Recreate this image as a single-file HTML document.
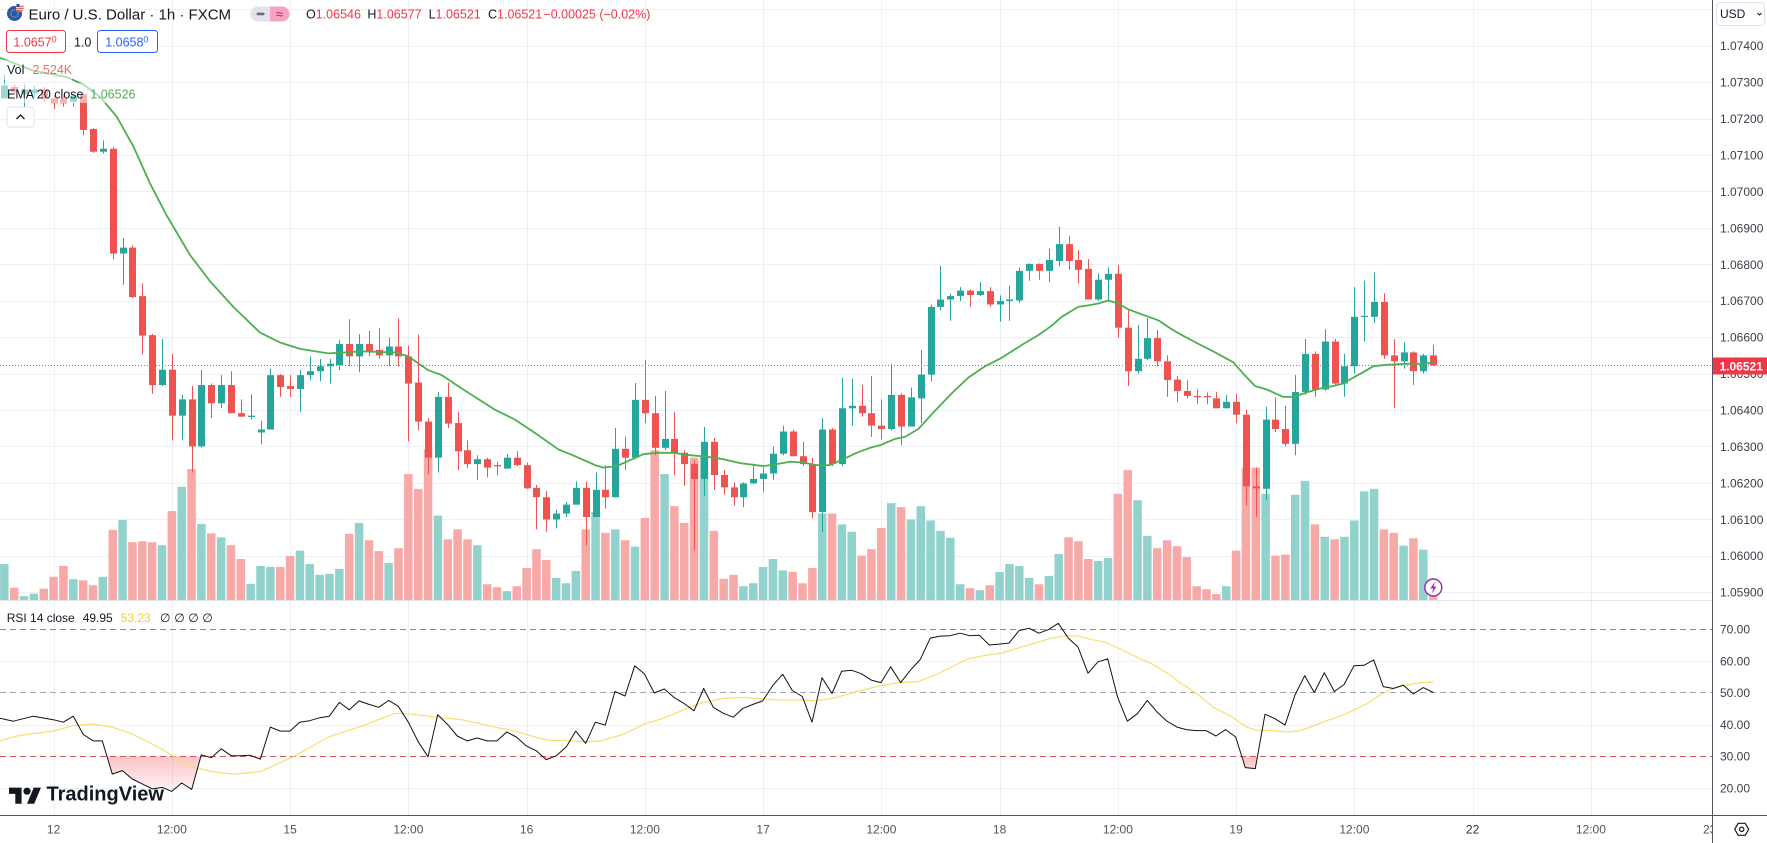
<!DOCTYPE html>
<html><head><meta charset="utf-8"><title>EURUSD 1h</title>
<style>
html,body{margin:0;padding:0;background:#fff;}
body{width:1767px;height:843px;overflow:hidden;}
svg{display:block;font-family:"Liberation Sans",Arial,sans-serif;}
</style></head><body>
<svg id="c" width="1767" height="843" viewBox="0 0 1767 843" xmlns="http://www.w3.org/2000/svg">
<defs>
<linearGradient id="pk" gradientUnits="userSpaceOnUse" x1="0" y1="756" x2="0" y2="795"><stop offset="0" stop-color="#f23645" stop-opacity="0.30"/><stop offset="1" stop-color="#f23645" stop-opacity="0.03"/></linearGradient>
<clipPath id="b30"><rect x="0" y="756.3" width="1712" height="58"/></clipPath>
</defs>
<rect width="1767" height="843" fill="#fff"/>
<g id="grid" stroke="#edf0f5" stroke-width="1"></g>
<g id="vol"></g>
<g id="cand"></g>
<g id="ema"></g>

<!-- current price line -->
<line x1="0" x2="1712" y1="365.5" y2="365.5" stroke="#ef5350" stroke-width="1" stroke-dasharray="1 2"/>

<!-- header legend -->
<circle cx="14.5" cy="13.5" r="7.5" fill="#2358b8"/>
<circle cx="14.5" cy="13.5" r="3.6" fill="none" stroke="#f6d34a" stroke-width="1" stroke-dasharray="1 1.3"/>
<circle cx="20" cy="7.5" r="4" fill="#fff"/>
<path d="M16.3 6.3h7.4M16.3 8.3h7.4M17 10.2h6" stroke="#d83a3a" stroke-width="1"/>
<rect x="16.5" y="4" width="3" height="3" fill="#2d4aa0"/>
<text x="28.5" y="19.3" font-size="15" fill="#131722">Euro / U.S. Dollar · 1h · FXCM</text>
<rect x="250.5" y="6.5" width="39" height="15" rx="7.5" fill="#e0e3eb"/>
<path d="M270 6.5H282A7.5 7.5 0 0 1 282 21.5H270Z" fill="#f5a3c3"/>
<rect x="256.5" y="12.6" width="8" height="2.6" rx="1.3" fill="#6a6d78"/>
<text x="279.5" y="18.6" font-size="13" fill="#c2185b" text-anchor="middle">≈</text>
<g font-size="12.5">
<text x="306" y="18.3" fill="#131722">O<tspan fill="#f23645">1.06546</tspan></text>
<text x="367.4" y="18.3" fill="#131722">H<tspan fill="#f23645">1.06577</tspan></text>
<text x="428.6" y="18.3" fill="#131722">L<tspan fill="#f23645">1.06521</tspan></text>
<text x="488" y="18.3" fill="#131722">C<tspan fill="#f23645">1.06521</tspan></text>
<text x="543.4" y="18.3" fill="#f23645">−0.00025 (−0.02%)</text>
</g>
<rect x="6.5" y="30.5" width="59" height="22" rx="3" fill="#fff" stroke="#f23645"/>
<text x="13.4" y="46.5" font-size="12.5" fill="#f23645">1.0657<tspan font-size="9" dy="-4">0</tspan></text>
<text x="74" y="46.5" font-size="12.5" fill="#131722">1.0</text>
<rect x="97.5" y="30.5" width="60" height="22" rx="3" fill="#fff" stroke="#2962ff"/>
<text x="105.2" y="46.5" font-size="12.5" fill="#2962ff">1.0658<tspan font-size="9" dy="-4">0</tspan></text>
<rect x="0" y="60" width="72" height="20" fill="#fff" fill-opacity="0.55"/>
<text x="7" y="74" font-size="12.5" fill="#131722">Vol</text>
<text x="32.5" y="74" font-size="12.5" fill="#ef6c6c">2.524K</text>
<rect x="0" y="83" width="136" height="20" fill="#fff" fill-opacity="0.55"/>
<text x="7" y="98.3" font-size="12.5" fill="#131722">EMA 20 close</text>
<text x="90.3" y="98.3" font-size="12.5" fill="#4caf50">1.06526</text>
<rect x="7" y="107" width="27" height="20" rx="3" fill="#fff" stroke="#e0e3eb"/>
<path d="M16.5 119 L20.5 115 L24.5 119" fill="none" stroke="#131722" stroke-width="1.3"/>

<!-- lightning icon -->
<circle cx="1433.3" cy="587.5" r="8.5" fill="#fff" stroke="#9c27b0" stroke-width="1.4"/>
<path d="M1435 581.5 L1430.3 588.5 H1433.3 L1431.8 593.5 L1436.5 586.5 H1433.5 Z" fill="#9c27b0"/>

<!-- pane separator -->
<line x1="0" x2="1767" y1="600.5" y2="600.5" stroke="#e0e3eb"/>

<!-- RSI pane -->
<line x1="0" x2="1712" y1="629.5" y2="629.5" stroke="#5f9e75" stroke-dasharray="6 4"/>
<line x1="0" x2="1712" y1="692.5" y2="692.5" stroke="#a3a6af" stroke-dasharray="6 4"/>
<line x1="0" x2="1712" y1="756.5" y2="756.5" stroke="#d25a5a" stroke-dasharray="6 4"/>
<g id="rsi"></g>
<g font-size="12">
<text x="6.7" y="621.8" fill="#131722">RSI 14 close</text>
<text x="82.7" y="621.8" fill="#131722">49.95</text>
<text x="120.7" y="621.8" fill="#f2cf3a">53.23</text>
<text x="160" y="621.8" fill="#131722">∅</text>
<text x="174.3" y="621.8" fill="#131722">∅</text>
<text x="188.3" y="621.8" fill="#131722">∅</text>
<text x="202.3" y="621.8" fill="#131722">∅</text>
</g>

<!-- TradingView logo -->
<g transform="translate(9,784) scale(0.9)" fill="#131722">
<path d="M14 22H7V11H0V4h14v18z"/>
<circle cx="20" cy="8" r="4"/>
<path d="M28 22h-8l7.5-18h8L28 22z"/>
</g>
<text x="46.5" y="800.5" font-size="20" font-weight="bold" fill="#131722">TradingView</text>

<!-- axes backgrounds -->
<rect x="1713" y="0" width="54" height="843" fill="#fff"/>
<rect x="0" y="816" width="1713" height="27" fill="#fff"/>
<line x1="1712.5" x2="1712.5" y1="0" y2="843" stroke="#50535e"/>
<line x1="0" x2="1767" y1="815.5" y2="815.5" stroke="#50535e"/>

<!-- price axis labels -->
<g font-size="12" fill="#3b3f4a">
<text x="1720" y="50.2">1.07400</text>
<text x="1720" y="86.6">1.07300</text>
<text x="1720" y="123.1">1.07200</text>
<text x="1720" y="159.5">1.07100</text>
<text x="1720" y="195.9">1.07000</text>
<text x="1720" y="232.4">1.06900</text>
<text x="1720" y="268.8">1.06800</text>
<text x="1720" y="305.2">1.06700</text>
<text x="1720" y="341.6">1.06600</text>
<text x="1720" y="378.1">1.06500</text>
<text x="1720" y="414.5">1.06400</text>
<text x="1720" y="450.9">1.06300</text>
<text x="1720" y="487.4">1.06200</text>
<text x="1720" y="523.8">1.06100</text>
<text x="1720" y="560.2">1.06000</text>
<text x="1720" y="596.7">1.05900</text>
<text x="1720" y="633.6">70.00</text>
<text x="1720" y="665.3">60.00</text>
<text x="1720" y="697.1">50.00</text>
<text x="1720" y="728.8">40.00</text>
<text x="1720" y="760.6">30.00</text>
<text x="1720" y="792.3">20.00</text>
</g>
<rect x="1713" y="357.5" width="54" height="17" fill="#f23645"/>
<text x="1719.5" y="370.4" font-size="12" font-weight="bold" fill="#fff">1.06521</text>

<!-- USD box -->
<rect x="1716.5" y="2.5" width="48" height="23" rx="4" fill="#fff" stroke="#e0e3eb"/>
<text x="1720" y="18" font-size="12" fill="#131722">USD</text>
<path d="M1757.5 13 L1759.5 15 L1761.5 13" fill="none" stroke="#131722" stroke-width="1"/>

<!-- time axis labels -->
<g font-size="12" fill="#50535e" text-anchor="middle">
<text x="53.6" y="833.3">12</text>
<text x="171.9" y="833.3">12:00</text>
<text x="290.1" y="833.3">15</text>
<text x="408.4" y="833.3">12:00</text>
<text x="526.6" y="833.3">16</text>
<text x="644.9" y="833.3">12:00</text>
<text x="763.1" y="833.3">17</text>
<text x="881.4" y="833.3">12:00</text>
<text x="999.6" y="833.3">18</text>
<text x="1117.9" y="833.3">12:00</text>
<text x="1236.1" y="833.3">19</text>
<text x="1354.4" y="833.3">12:00</text>
<text x="1472.6" y="833.3" fill="#2a2e39">22</text>
<text x="1590.9" y="833.3">12:00</text>
</g>
<g>
<rect x="1700" y="820" width="12.5" height="20" fill="#fff"/>
<text x="1703" y="833.3" font-size="12" fill="#50535e">23</text>
<rect x="1713" y="816" width="54" height="27" fill="#fff"/>
<line x1="1712.5" x2="1712.5" y1="815" y2="843" stroke="#50535e"/>
</g>
<!-- settings icon -->
<path d="M1734.7 829.3 L1738.2 823.3 L1745.2 823.3 L1748.7 829.3 L1745.2 835.3 L1738.2 835.3 Z" fill="none" stroke="#131722" stroke-width="1.2"/>
<circle cx="1741.7" cy="829.3" r="2.2" fill="none" stroke="#131722" stroke-width="1.2"/>
</svg>
<script>
(function(){
var NS="http://www.w3.org/2000/svg";
function el(t,a,p){var e=document.createElementNS(NS,t);for(var k in a)e.setAttribute(k,a[k]);p.appendChild(e);return e;}
function Y(d){return 40+d/2.023;}
function X(n){return 53.6+9.854*n;}
var G=document.getElementById('grid'),i,y,x;
for(i=-1;i<=15;i++){y=Math.round(45.7+36.43*i)+0.5;el('line',{x1:0,x2:1712,y1:y,y2:y},G);}
[661,724.5,788].forEach(function(v){var yy=Math.round(v)+0.5;el('line',{x1:0,x2:1712,y1:yy,y2:yy},G);});
for(i=0;i<14;i++){x=Math.round(53.6+118.25*i)+0.5;el('line',{x1:x,x2:x,y1:0,y2:815},G);}

var D=[
[1,92,118,70,118,1060],[0,95,105,90,110,1108],[1,100,110,90,135,1125],[1,100,108,92,115,1120],[0,100,118,95,125,1110],
[0,118,128,112,140,1086],[0,118,128,112,135,1064],[1,112,125,108,135,1091],[0,110,182,108,192,1093],[0,180,226,178,228,1103],
[1,220,226,203,230,1086],[0,220,432,216,443,991],[1,420,432,400,495,971],[0,420,520,415,522,1016],[0,518,598,492,636,1014],
[0,597,698,595,716,1016],[1,667,698,605,700,1022],[0,667,760,635,810,953],[1,727,760,718,810,904],[0,727,822,700,875,868],
[1,698,822,667,825,979],[0,698,735,695,765,998],[1,698,735,678,745,1006],[0,698,755,670,755,1022],[0,755,762,727,762,1050],
[1,760,762,717,768,1100],[1,788,794,770,818,1064],[1,678,788,665,788,1066],[0,678,702,676,722,1066],[0,700,706,678,722,1044],
[1,678,706,668,752,1033],[1,670,678,640,688,1060],[1,660,670,645,690,1082],[1,655,660,645,695,1080],[1,615,658,607,668,1070],
[0,615,640,565,660,999],[1,615,640,595,672,977],[0,615,630,588,640,1012],[0,627,638,583,645,1034],[1,620,638,602,660,1058],
[0,620,640,563,660,1028],[0,640,695,618,812,878],[0,693,772,596,790,908],[0,772,845,765,878,828],[1,722,845,712,875,962],
[0,722,776,693,785,1010],[0,775,832,752,870,990],[0,830,858,810,866,1010],[1,848,858,840,890,1022],[0,848,865,845,885,1101],
[0,860,862,853,880,1107],[1,845,867,837,867,1115],[0,845,860,832,862,1105],[0,860,907,855,908,1068],[0,906,925,900,990,1030],
[0,925,970,912,995,1052],[1,958,970,950,988,1088],[1,940,958,935,965,1099],[1,906,940,893,940,1074],[0,906,965,893,1022,990],
[1,910,965,875,965,955],[0,910,925,860,948,997],[1,827,925,785,925,990],[0,827,845,802,870,1012],[1,728,845,694,848,1025],
[0,728,755,647,775,967],[0,755,825,720,840,830],[1,807,825,710,830,878],[0,807,835,752,880,943],[0,835,858,830,902,977],
[0,858,888,850,1032,845],[1,813,888,783,922,843],[0,813,880,805,910,993],[0,880,905,870,920,1090],[0,905,925,895,942,1082],
[1,897,925,895,945,1105],[1,888,897,857,898,1099],[1,877,888,865,915,1066],[1,837,877,822,890,1050],[1,792,837,780,840,1073],
[0,792,842,788,842,1076],[0,842,858,813,862,1099],[0,858,955,845,968,1068],[1,788,955,765,995,958],[0,788,858,785,862,958],
[1,745,858,683,862,980],[1,740,745,685,780,995],[0,740,755,698,762,1043],[0,755,780,680,803,1030],[0,780,787,727,808,987],
[1,718,787,655,790,937],[0,718,782,715,820,945],[1,723,782,703,782,970],[1,677,725,627,775,943],[1,540,677,535,690,972],
[1,525,540,457,547,993],[1,518,525,513,568,1007],[1,507,518,500,528,1101],[0,507,516,505,540,1109],[1,508,516,490,518,1113],
[0,508,535,500,540,1103],[1,528,535,517,570,1076],[1,525,528,497,568,1060],[1,467,527,460,532,1064],[1,453,467,452,487,1088],
[0,453,467,452,485,1101],[1,445,467,422,490,1084],[1,413,447,378,458,1040],[0,413,447,396,465,1006],[0,445,465,425,492,1014],
[0,463,525,443,525,1050],[1,485,525,472,528,1054],[1,473,485,460,527,1048],[0,473,582,455,602,918],[0,582,670,545,700,870],
[1,645,670,577,675,931],[1,603,645,563,648,1003],[0,603,650,587,660,1028],[0,650,688,638,722,1012],[0,687,710,680,733,1024],
[0,710,720,688,725,1046],[0,720,722,707,737,1105],[0,720,722,713,737,1111],[0,725,745,712,745,1121],[1,732,745,718,745,1105],
[0,732,758,715,775,1033],[0,758,903,748,942,865],[0,903,907,865,965,865],[1,768,908,742,930,918],[0,768,787,723,793,1043],
[0,787,817,740,822,1041],[1,712,817,678,840,920],[1,635,712,605,718,892],[0,635,707,630,722,980],[1,610,707,585,710,1005],
[0,610,695,605,697,1010],[1,660,695,635,722,1005],[1,560,660,500,675,972],[1,558,560,487,610,913],[1,530,560,470,572,908],
[0,530,638,512,645,990],[0,638,650,605,745,997],[1,632,650,612,665,1023],[0,632,670,630,698,1008],[1,638,670,635,675,1031],
[0,638,658,617,660,1122]
];
var V=document.getElementById('vol'),C=document.getElementById('cand');
for(i=0;i<D.length;i++){
  var d=D[i],n=i-5,cx=X(n),g=d[0]===1;
  var vt=Y(d[5]);
  el('rect',{x:(cx-4.25).toFixed(2),y:vt.toFixed(2),width:8.5,height:(600-vt).toFixed(2),fill:g?'#92d2cc':'#f7a9a7'},V);
  var col=g?'#26a69a':'#ef5350';
  var rc=Math.round(cx);
  el('line',{x1:rc+0.5,x2:rc+0.5,y1:Y(d[3]).toFixed(2),y2:Y(d[4]).toFixed(2),stroke:col,'stroke-width':1},C);
  var bt=Y(d[1]),bb=Y(d[2]);if(bb-bt<1.3){bb=bt+1.3;}
  el('rect',{x:rc-3,y:bt.toFixed(2),width:7,height:(bb-bt).toFixed(2),fill:col},C);
}
function pl(segs){var out=[];segs.forEach(function(s){var off=s[0];s[1].forEach(function(p){out.push([off+p[0]/3,Y(p[1])]);});});out.sort(function(a,b){return a[0]-b[0];});return out;}
function ps(a){return a.map(function(p){return p[0].toFixed(1)+','+p[1].toFixed(1);}).join(' ');}
var E=[[0,[[0,36],[100,62],[200,75],[250,90],[300,115],[350,155],[400,215],[450,290],[500,355],[570,435],[630,488],[700,540],[780,592],[840,612],[900,625]]],
[295,[[100,634],[200,630],[300,632],[340,640],[400,668],[440,678],[500,705],[600,748],[660,768],[720,795],[790,828],[840,842],[900,860]]],
[590,[[40,865],[80,862],[120,850],[160,838],[200,835],[250,835],[300,840],[350,843],[400,848],[450,856],[520,862],[560,858],[600,853],[640,855],[680,860],[720,860],[760,848],[800,835],[840,825],[870,820]]],
[885,[[30,807],[60,803],[100,787],[150,750],[200,715],[250,683],[300,660],[350,643],[380,630],[420,613],[460,597],[500,578],[530,560],[580,540],[610,537],[640,533],[670,527],[700,533],[730,545],[770,555],[820,567],[860,585]]],
[1180,[[0,595],[50,613],[100,630],[160,652],[190,675],[225,700],[260,707],[310,722],[340,722],[380,713],[420,705],[460,700],[490,695],[520,683],[550,672],[580,660],[620,657],[680,655],[720,655],[760,653]]]];
el('polyline',{points:ps(pl(E)),fill:'none',stroke:'#4caf50','stroke-width':1.8,'stroke-linejoin':'round'},document.getElementById('ema'));

var R=[[0,[[0,1372],[40,1378],[100,1368],[160,1375],[190,1380],[220,1368],[250,1405],[280,1418],[307,1418],[337,1485],[367,1478],[397,1495],[427,1505],[457,1515],[487,1512],[515,1520],[545,1503],[575,1516],[604,1446],[634,1452],[664,1434],[694,1448],[721,1448],[751,1447],[781,1455],[811,1390],[841,1398],[870,1398]]],
[295,[[14,1380],[44,1377],[74,1371],[103,1368],[133,1340],[163,1355],[192,1337],[222,1344],[251,1350],[281,1336],[310,1348],[340,1380],[370,1420],[399,1450],[428,1365],[458,1385],[487,1408],[517,1418],[547,1412],[577,1418],[606,1418],[635,1400],[664,1410],[694,1428],[724,1438],[754,1456],[784,1448],[814,1430],[842,1398],[872,1423]]],
[590,[[16,1380],[46,1386],[75,1318],[105,1327],[134,1266],[163,1282],[193,1321],[223,1313],[252,1330],[282,1342],[312,1357],[341,1312],[370,1350],[400,1362],[430,1370],[459,1352],[489,1344],[518,1337],[548,1306],[578,1283],[607,1316],[637,1328],[666,1380],[696,1290],[726,1322],[755,1277],[785,1275],[814,1282],[844,1295],[873,1300]]],
[885,[[17,1268],[47,1300],[77,1274],[106,1253],[136,1210],[165,1206],[195,1205],[225,1200],[254,1205],[283,1204],[313,1224],[343,1222],[372,1220],[402,1195],[432,1190],[461,1200],[490,1193],[520,1180],[550,1210],[579,1228],[609,1281],[639,1258],[668,1252],[698,1330],[727,1378],[757,1363],[787,1336],[817,1360],[846,1378],[876,1390]]],
[1180,[[19,1395],[49,1397],[78,1397],[108,1408],[137,1395],[167,1410],[196,1472],[226,1474],[255,1364],[285,1373],[315,1386],[345,1325],[374,1286],[403,1320],[433,1280],[463,1318],[492,1304],[522,1266],[552,1265],[581,1254],[610,1308],[640,1312],[670,1305],[700,1323],[730,1310],[760,1320]]]];
var M=[[0,[[0,1418],[50,1408],[100,1403],[160,1398],[220,1387],[280,1384],[337,1390],[400,1405],[460,1425],[515,1447],[575,1470],[634,1480],[700,1485],[781,1480],[840,1462],[880,1450]]],
[295,[[0,1448],[100,1410],[200,1388],[300,1362],[340,1363],[400,1368],[500,1375],[600,1390],[660,1398],[720,1410],[760,1417],[810,1417],[870,1420]]],
[590,[[30,1418],[100,1405],[160,1385],[220,1372],[300,1350],[340,1340],[400,1332],[460,1330],[520,1333],[560,1335],[640,1335],[680,1337],[740,1330],[800,1318],[860,1308]]],
[885,[[40,1300],[100,1298],[160,1282],[200,1268],[250,1252],[300,1245],[350,1240],[400,1230],[450,1220],[500,1210],[540,1205],[580,1206],[620,1213],[660,1218],[700,1230],[760,1250],[800,1262],[850,1282]]],
[1180,[[0,1300],[50,1322],[100,1350],[150,1367],[200,1390],[230,1396],[280,1397],[320,1400],[360,1397],[400,1388],[440,1377],[480,1368],[520,1356],[560,1343],[600,1325],[640,1312],[680,1305],[720,1300],[760,1299]]]];
var RS=document.getElementById('rsi');
var rp=pl(R);
var fillPts=rp.concat([[rp[rp.length-1][0],756.3],[rp[0][0],756.3]]);
el('polygon',{points:ps(fillPts),fill:'url(#pk)','clip-path':'url(#b30)'},RS);
el('polyline',{points:ps(pl(M)),fill:'none',stroke:'#f7df6e','stroke-width':1.2},RS);
el('polyline',{points:ps(rp),fill:'none',stroke:'#111','stroke-width':1,'stroke-linejoin':'round'},RS);
})();
</script>
</body></html>
